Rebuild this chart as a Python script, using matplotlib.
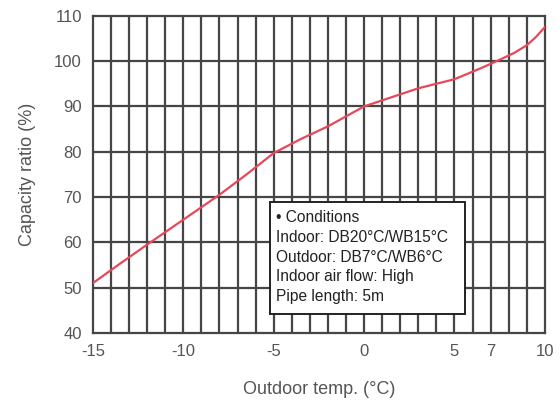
import matplotlib.pyplot as plt
from matplotlib.patches import Rectangle

plt.rcParams['font.family'] = ['Liberation Sans', 'DejaVu Sans']

# capacity curve
temp = [-15, -13.5, -12, -10, -8, -6.5, -5, -3.5, -2, 0, 1.5, 3, 5, 6.5, 7.5, 8.3, 9, 9.5, 10]
capacity = [51, 55.3, 59.5, 65, 70.5, 75, 79.7, 82.8, 85.6, 90, 92, 94, 96, 98.5, 100.3, 101.8, 103.5, 105.3, 107.5]

xticks = [-15, -10, -5, 0, 5, 7, 10]
yticks = [40, 50, 60, 70, 80, 90, 100, 110]

conditions = ['\u2022 Conditions',
              'Indoor: DB20\u00b0C/WB15\u00b0C',
              'Outdoor: DB7\u00b0C/WB6\u00b0C',
              'Indoor air flow: High',
              'Pipe length: 5m']

fig = plt.figure(figsize=(5.6, 4.05), dpi=100)
ax = fig.add_axes([0.166, 0.178, 0.807, 0.783])

grid_col = '#454545'
for x in range(-14, 10):
    ax.axvline(x, color=grid_col, lw=1.6, zorder=1)
for y in range(50, 110, 10):
    ax.axhline(y, color=grid_col, lw=1.6, zorder=1)

ax.plot(temp, capacity, color='#e8475a', lw=1.6, zorder=3)

ax.set_xlim(-15, 10)
ax.set_ylim(40, 110)
ax.set_xticks(xticks)
ax.set_yticks(yticks)
ax.set_xticklabels([str(t) for t in xticks])
ax.tick_params(length=0, labelsize=12, labelcolor='#555555', pad=8)
for s in ax.spines.values():
    s.set_color(grid_col)
    s.set_linewidth(1.6)

ax.set_xlabel('Outdoor temp. (\u00b0C)', fontsize=13, color='#555555', labelpad=16)
ax.set_ylabel('Capacity ratio (%)', fontsize=13, color='#555555', labelpad=13)

# conditions box
ax.add_patch(Rectangle((-5.2, 44.2), 10.77, 24.7, fc='white', ec='#222222',
                       lw=1.4, zorder=5))
for i, line in enumerate(conditions):
    ax.text(-4.85, 65.4 - i * 4.35, line, fontsize=11.2, color='#222222',
            va='center', ha='left', zorder=6)

fig.savefig('out.png', dpi=100)
plt.close()
